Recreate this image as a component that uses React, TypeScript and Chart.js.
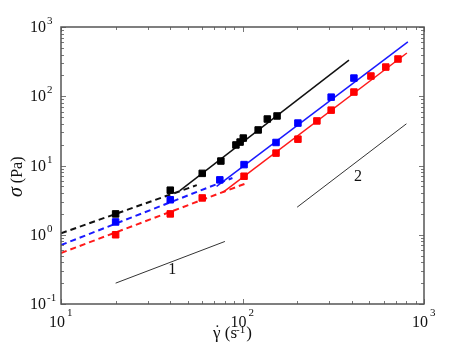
import React, { useEffect, useRef } from "react";
import { Chart, registerables } from "chart.js";

Chart.register(...registerables);

// ---- data ----
const blackX = [20, 40, 60, 76, 92, 97, 101, 122, 137, 155];
const blackY = [2.0, 4.4, 7.7, 11.6, 19.8, 21.8, 24.9, 32.6, 46.9, 51.9];

const blueX = [20, 40, 75, 102, 153, 202, 308, 411];
const blueY = [1.53, 3.2, 6.2, 10.3, 21.5, 41, 97, 183];

const redX = [20, 40, 60, 102, 153, 202, 257, 308, 411, 510, 616, 719];
const redY = [1.0, 2.0, 3.4, 7.0, 15.1, 24, 44, 63, 115, 196, 264, 345];

// fitted lines (endpoints)
const blackDashX = [10, 56];
const blackDashY = [1.05, 5.2];
const blueDashX = [10, 88];
const blueDashY = [0.71, 6.6];
const redDashX = [10, 106];
const redDashY = [0.545, 5.6];

const blackSolidX = [45, 386];
const blackSolidY = [4.3, 333];
const blueSolidX = [72, 815];
const blueSolidY = [5.0, 610];
const redSolidX = [78, 805];
const redSolidY = [4.1, 421];

// slope guide lines
const slope1X = [20, 80];
const slope1Y = [0.2, 0.8];
const slope2X = [200, 800];
const slope2Y = [2.5, 40];

const slopeLabels = ["1", "2"];
const slopeLabelX = [41, 433];
const slopeLabelY = [0.31, 6.8];

// axes
const xMin = 10, xMax = 1000, yMin = 0.1, yMax = 1000;
const xTickExps = ["1", "2", "3"];
const yTickExps = ["-1", "0", "1", "2", "3"];
const yTitleSym = "\u03C3";
const yTitleUnit = " (Pa)";
const xTitleSym = "\u03B3";
const xTitleDot = "\u02D9";
const xTitleUnit = " (s";
const xTitleExp = "-1";
const xTitleEnd = ")";

const pts = (xs: number[], ys: number[]) => xs.map((x, i) => ({ x, y: ys[i] }));

const SERIF = "\"Liberation Serif\", \"Times New Roman\", Times, serif";

const overlay = {
  id: "overlay",
  afterDraw(chart: any) {
    const { ctx, chartArea: a, scales } = chart;
    const xs = scales.x;
    const ys = scales.y;
    ctx.save();

    // minor/major ticks, inward, all four sides
    ctx.strokeStyle = "#777";
    ctx.lineWidth = 1;
    const xLo = Math.round(Math.log10(xMin));
    const xHi = Math.round(Math.log10(xMax));
    for (let k = xLo; k <= xHi; k++) {
      for (let m = 1; m <= 9; m++) {
        const v = m * Math.pow(10, k);
        if (v > xMax * 1.0001) break;
        const px = Math.round(xs.getPixelForValue(v)) + 0.5;
        const len = m === 1 ? 5 : 3;
        ctx.beginPath();
        ctx.moveTo(px, a.bottom);
        ctx.lineTo(px, a.bottom - len);
        ctx.moveTo(px, a.top);
        ctx.lineTo(px, a.top + len);
        ctx.stroke();
      }
    }
    const yLo = Math.round(Math.log10(yMin));
    const yHi = Math.round(Math.log10(yMax));
    for (let k = yLo; k <= yHi; k++) {
      for (let m = 1; m <= 9; m++) {
        const v = m * Math.pow(10, k);
        if (v > yMax * 1.0001) break;
        const py = Math.round(ys.getPixelForValue(v)) + 0.5;
        const len = m === 1 ? 5 : 3;
        ctx.beginPath();
        ctx.moveTo(a.left, py);
        ctx.lineTo(a.left + len, py);
        ctx.moveTo(a.right, py);
        ctx.lineTo(a.right - len, py);
        ctx.stroke();
      }
    }

    // frame
    ctx.strokeStyle = "#555";
    ctx.lineWidth = 1.5;
    ctx.strokeRect(a.left, a.top, a.right - a.left, a.bottom - a.top);

    ctx.fillStyle = "#111";
    ctx.textBaseline = "alphabetic";

    // x tick labels
    xTickExps.forEach((e) => {
      const v = Math.pow(10, Number(e));
      const px = xs.getPixelForValue(v);
      ctx.font = `16px ${SERIF}`;
      ctx.textAlign = "right";
      ctx.fillText("10", px + 4, a.bottom + 23);
      ctx.font = `11px ${SERIF}`;
      ctx.textAlign = "left";
      ctx.fillText(e, px + 6, a.bottom + 12);
    });

    // y tick labels
    yTickExps.forEach((e) => {
      const v = Math.pow(10, Number(e));
      const py = ys.getPixelForValue(v);
      ctx.font = `16px ${SERIF}`;
      ctx.textAlign = "right";
      ctx.fillText("10", a.left - 15, py + 5);
      ctx.font = `11px ${SERIF}`;
      ctx.textAlign = "left";
      ctx.fillText(e, a.left - 14, py - 3);
    });

    // slope labels
    ctx.font = `16px ${SERIF}`;
    ctx.textAlign = "center";
    ctx.textBaseline = "middle";
    slopeLabels.forEach((t, i) => {
      ctx.fillText(t, xs.getPixelForValue(slopeLabelX[i]), ys.getPixelForValue(slopeLabelY[i]));
    });

    // x title
    ctx.textBaseline = "alphabetic";
    ctx.textAlign = "left";
    let tx = 213;
    const tb = a.bottom + 34;
    ctx.font = `17px ${SERIF}`;
    const gw = ctx.measureText(xTitleSym).width;
    ctx.fillText(xTitleSym, tx, tb);
    ctx.textAlign = "center";
    ctx.fillText(xTitleDot, tx + gw / 2 + 0.5, tb - 2);
    ctx.textAlign = "left";
    tx += gw;
    ctx.fillText(xTitleUnit, tx, tb);
    tx += ctx.measureText(xTitleUnit).width;
    ctx.font = `11px ${SERIF}`;
    ctx.fillText(xTitleExp, tx - 1, tb - 5);
    tx += ctx.measureText(xTitleExp).width;
    ctx.font = `17px ${SERIF}`;
    ctx.fillText(xTitleEnd, tx, tb);

    // y title (rotated)
    ctx.translate(22, 197);
    ctx.rotate(-Math.PI / 2);
    ctx.font = `italic 20px ${SERIF}`;
    ctx.fillText(yTitleSym, 0, 0);
    const w = ctx.measureText(yTitleSym).width;
    ctx.font = `16px ${SERIF}`;
    ctx.fillText(yTitleUnit, w, 0);

    ctx.restore();
  },
};

const lineDs = (xs: number[], ys: number[], color: string, dashed: boolean, width = 1.5) => ({
  data: pts(xs, ys),
  showLine: true,
  borderColor: color,
  backgroundColor: color,
  borderWidth: width,
  borderDash: dashed ? [6, 4] : [],
  pointRadius: 0,
  pointHoverRadius: 0,
});

const pointDs = (xs: number[], ys: number[], color: string) => ({
  data: pts(xs, ys),
  showLine: false,
  pointStyle: "rect",
  pointRadius: 4.6,
  pointBorderWidth: 1,
  borderColor: color,
  backgroundColor: color,
});

export default function App() {
  const ref = useRef<HTMLCanvasElement | null>(null);
  useEffect(() => {
    let chart: any = null;
    let cancelled = false;
    const make = () => {
      if (cancelled || !ref.current) return;
      chart = new Chart(ref.current, {
        type: "scatter",
        data: {
          datasets: [
            pointDs(blackX, blackY, "#000000"),
            pointDs(blueX, blueY, "#0000ff"),
            pointDs(redX, redY, "#ff0000"),
            lineDs(blackSolidX, blackSolidY, "#111111", false),
            lineDs(blueSolidX, blueSolidY, "#1a1aff", false),
            lineDs(redSolidX, redSolidY, "#ff1a1a", false),
            lineDs(blackDashX, blackDashY, "#111111", true, 2),
            lineDs(blueDashX, blueDashY, "#1a1aff", true, 2),
            lineDs(redDashX, redDashY, "#ff1a1a", true, 2),
            lineDs(slope1X, slope1Y, "#333333", false, 1),
            lineDs(slope2X, slope2Y, "#333333", false, 1),
          ] as any,
        },
        options: {
          responsive: false,
          animation: false,
          events: [],
          layout: { padding: { left: 61, right: 45, top: 27, bottom: 48 } },
          plugins: { legend: { display: false }, tooltip: { enabled: false } },
          scales: {
            x: { type: "logarithmic", min: xMin, max: xMax, display: false },
            y: { type: "logarithmic", min: yMin, max: yMax, display: false },
          },
        },
        plugins: [overlay],
      });
    };
    const fonts: any = (document as any).fonts;
    if (fonts && fonts.load) {
      Promise.all([
        fonts.load(`16px "Liberation Serif"`),
        fonts.load(`italic 20px "Liberation Serif"`),
      ]).then(make, make);
    } else {
      make();
    }
    return () => {
      cancelled = true;
      if (chart) chart.destroy();
    };
  }, []);
  return (
    <div style={{ position: "absolute", left: 0, top: 0, width: 469, height: 352, background: "#fff" }}>
      <canvas ref={ref} width={469} height={352} style={{ display: "block" }} />
    </div>
  );
}
